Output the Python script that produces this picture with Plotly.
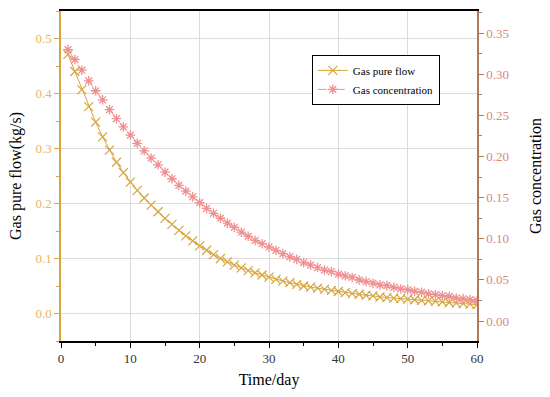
import plotly.graph_objects as go

days = list(range(1, 61))
gas_pure_flow = [
    0.471, 0.440, 0.407, 0.376, 0.348, 0.321, 0.297, 0.275, 0.256, 0.239,
    0.224, 0.210, 0.197, 0.185, 0.173, 0.162, 0.151, 0.141, 0.132, 0.123,
    0.115, 0.107, 0.100, 0.094, 0.088, 0.083, 0.078, 0.074, 0.070, 0.066,
    0.062, 0.059, 0.056, 0.053, 0.050, 0.048, 0.046, 0.044, 0.042, 0.040,
    0.038, 0.036, 0.035, 0.033, 0.032, 0.030, 0.029, 0.028, 0.027, 0.026,
    0.025, 0.024, 0.023, 0.022, 0.021, 0.020, 0.019, 0.018, 0.017, 0.016,
]
gas_concentration = [
    0.330, 0.318, 0.305, 0.292, 0.280, 0.269, 0.257, 0.246, 0.236, 0.226,
    0.216, 0.207, 0.198, 0.190, 0.181, 0.173, 0.165, 0.158, 0.151, 0.144,
    0.137, 0.131, 0.125, 0.119, 0.114, 0.108, 0.103, 0.098, 0.094, 0.090,
    0.086, 0.082, 0.078, 0.075, 0.071, 0.068, 0.065, 0.062, 0.060, 0.057,
    0.055, 0.053, 0.050, 0.048, 0.046, 0.044, 0.043, 0.041, 0.039, 0.038,
    0.036, 0.035, 0.033, 0.032, 0.031, 0.030, 0.028, 0.027, 0.026, 0.025,
]
left_ticks = [0.0, 0.1, 0.2, 0.3, 0.4, 0.5]
right_ticks = [0.00, 0.05, 0.10, 0.15, 0.20, 0.25, 0.30, 0.35]
x_ticks = [0, 10, 20, 30, 40, 50, 60]

GOLD = "#D6A53C"
GOLD_TXT = "#E8B660"
RED = "#C8625A"
BROWN = "#B07A5A"
RED_TXT = "#D9877F"
FONT = "Liberation Serif"

fig = go.Figure()
fig.add_trace(go.Scatter(
    x=days, y=gas_pure_flow, name="Gas pure flow", mode="lines+markers",
    line=dict(color=GOLD, width=1),
    marker=dict(symbol="x-thin-open", size=9, line=dict(color=GOLD, width=1.2)),
    yaxis="y",
))
fig.add_trace(go.Scatter(
    x=days, y=gas_concentration, name="Gas concentration", mode="lines+markers",
    line=dict(color="#F09090", width=1, dash="dash"),
    marker=dict(symbol="asterisk-open", size=8, line=dict(color=RED, width=1.3)),
    yaxis="y2",
))

fig.update_layout(
    width=550, height=397,
    margin=dict(l=61, r=73, t=11, b=56),
    paper_bgcolor="white", plot_bgcolor="white",
    font=dict(family=FONT, size=13, color="black"),
    showlegend=True,
    legend=dict(x=0.603, y=0.867, xanchor="left", yanchor="top",
                bordercolor="black", borderwidth=1, bgcolor="white",
                font=dict(family=FONT, size=11, color="black"),
                tracegroupgap=0, itemwidth=30),
    xaxis=dict(
        range=[0, 60], tickvals=x_ticks, ticktext=[str(v) for v in x_ticks],
        showline=True, linecolor="black", linewidth=1.5, mirror=True,
        ticks="outside", ticklen=5, tickcolor="black",
        minor=dict(dtick=5, ticks="outside", ticklen=3, tickcolor="black", showgrid=False),
        showgrid=True, gridcolor="#DCDCDC", gridwidth=1, zeroline=False,
        automargin=False,
        title=dict(text="Time/day", font=dict(family=FONT, size=16, color="black"), standoff=8),
        tickfont=dict(family=FONT, size=13, color="#333333"),
    ),
    yaxis=dict(
        range=[-0.05, 0.55], tickvals=left_ticks,
        ticktext=[f"{v:.1f}" for v in left_ticks],
        showline=True, linecolor=GOLD, linewidth=1.5,
        ticks="outside", ticklen=5, tickcolor=GOLD,
        minor=dict(dtick=0.05, tick0=0, ticks="outside", ticklen=3, tickcolor=GOLD, showgrid=False),
        showgrid=True, gridcolor="#DCDCDC", gridwidth=1, zeroline=False,
        automargin=False,
        title=dict(text="Gas pure flow(kg/s)", font=dict(family=FONT, size=16, color="black"), standoff=10),
        tickfont=dict(family=FONT, size=13, color=GOLD_TXT),
    ),
    yaxis2=dict(
        range=[-0.0243, 0.377], tickvals=right_ticks,
        ticktext=[f"{v:.2f}" for v in right_ticks],
        overlaying="y", side="right",
        showline=True, linecolor=BROWN, linewidth=1.5,
        ticks="outside", ticklen=5, tickcolor=BROWN,
        minor=dict(dtick=0.025, tick0=0, ticks="outside", ticklen=3, tickcolor=BROWN, showgrid=False),
        showgrid=False, zeroline=False,
        automargin=False,
        title=dict(text="Gas concentration", font=dict(family=FONT, size=16, color="black"), standoff=22),
        tickfont=dict(family=FONT, size=13, color=RED_TXT),
    ),
)

fig.write_html("out.html", config={"displayModeBar": False},
               post_script="document.body.style.margin='0';")
